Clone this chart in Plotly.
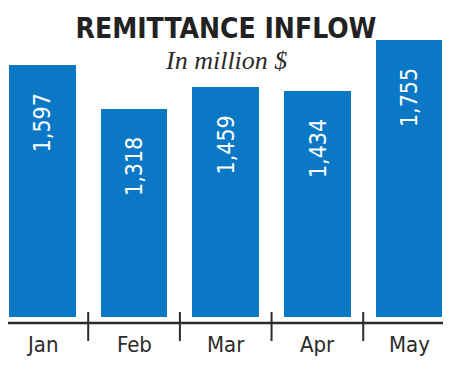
import plotly.graph_objects as go

months = ["Jan", "Feb", "Mar", "Apr", "May"]
values = [1597, 1318, 1459, 1434, 1755]
value_labels = ["1,597", "1,318", "1,459", "1,434", "1,755"]

OFF = 8                     # page body margin
W, H = 453 - 2 * OFF, 383 - 2 * OFF
TOP, BOT = 30 - OFF, 360 - OFF   # plot area rows (figure coords)
BASE = 317 - OFF            # row of y=0
SCALE = 277 / 1755          # px per unit

def ypx(p):
    # p in page pixels
    return (BASE - (p - OFF)) / SCALE

xi = list(range(len(months)))
BAR = "#0b78c6"
DARK = "#2b2b2b"
COND = "DejaVu Sans Condensed, Roboto Condensed, Liberation Sans Narrow, Roboto"

fig = go.Figure()
fig.add_trace(go.Bar(x=xi, y=values, width=0.728, marker=dict(color=BAR, line=dict(width=0)),
                     hoverinfo="skip"))

ann = []
for i, (v, lab) in enumerate(zip(values, value_labels)):
    ann.append(dict(x=i, y=v, yshift=-58, text=lab, textangle=-90, showarrow=False,
                    xanchor="center", yanchor="middle",
                    font=dict(family=COND, size=23, color="white")))
for i, m in enumerate(months):
    ann.append(dict(x=i, y=ypx(344), text=m, showarrow=False, xanchor="center", yanchor="middle",
                    font=dict(family=COND, size=22, color=DARK)))
ann.append(dict(x=2, y=ypx(60), text="<i>In million $</i>", showarrow=False, xanchor="center",
                yanchor="middle", font=dict(family="Liberation Serif", size=26, color=DARK)))
ann.append(dict(xref="paper", x=1, y=ypx(370), text="SOURCE: <b>BB</b>", showarrow=False,
                xanchor="right", yanchor="middle",
                font=dict(family="DejaVu Sans", size=14, color=DARK)))

shapes = [dict(type="line", xref="paper", x0=0, x1=1, yref="y", y0=ypx(323), y1=ypx(323),
               line=dict(color=DARK, width=2.5))]
for i in range(len(months) - 1):
    shapes.append(dict(type="line", xref="x", x0=i + 0.5, x1=i + 0.5, yref="y",
                       y0=ypx(312), y1=ypx(341), line=dict(color=DARK, width=2)))

fig.update_layout(
    width=W, height=H,
    margin=dict(l=0, r=W - (443 - OFF), t=TOP, b=H - BOT, pad=0),
    paper_bgcolor="white", plot_bgcolor="white",
    showlegend=False,
    title=dict(text="<b>REMITTANCE INFLOW</b>", x=(226 - OFF) / W, xref="container",
               xanchor="center", y=1 - (28 - OFF) / H, yref="container", yanchor="middle",
               font=dict(family=COND, size=28, color="#222222")),
    xaxis=dict(range=[-0.364 - 1 / 92.1, 4.370], showgrid=False, zeroline=False,
               showticklabels=False, showline=False, fixedrange=True),
    yaxis=dict(range=[ypx(360), ypx(30)], showgrid=False, zeroline=False, showticklabels=False,
               showline=False, fixedrange=True),
    annotations=ann,
    shapes=shapes,
    bargap=0,
)

fig.write_html("out.html")
